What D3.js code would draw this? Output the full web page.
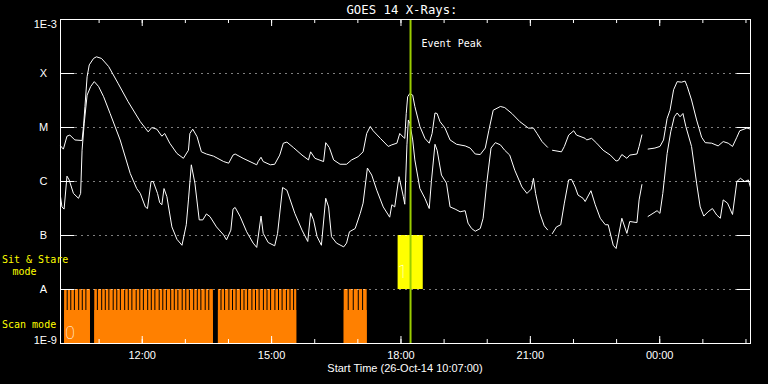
<!DOCTYPE html>
<html>
<head>
<meta charset="utf-8">
<script src="https://cdn.jsdelivr.net/npm/d3@7"></script>
<style>
  body { margin: 0; background: #000; }
  text { fill: #fff; }
  .mono { font-family: "DejaVu Sans Mono", monospace; }
  .sans { font-family: "Liberation Sans", Arial, sans-serif; }
  .thin { font-family: Roboto, Lato, sans-serif; font-weight: 100; }
</style>
</head>
<body>
<svg id="chart" width="768" height="384"></svg>
<script>
// time range of the plot (26-Oct-14 10:07 .. +16 h)
var startTime = new Date(2014, 9, 26, 10, 7)
var endTime = new Date(2014, 9, 27, 2, 7)

// flux class levels (log10 W/m^2)
var classLevels = [-8, -7, -6, -5, -4]
var classLabels = ['A', 'B', 'C', 'M', 'X']

// labelled hours on the time axis
var majorHours = [new Date(2014, 9, 26, 12), new Date(2014, 9, 26, 15), new Date(2014, 9, 26, 18),
  new Date(2014, 9, 26, 21), new Date(2014, 9, 27, 0)]
var majorLabels = ['12:00', '15:00', '18:00', '21:00', '00:00']

// GOES long channel (1-8 A): minutes after start, log10 flux (null = data gap)
var longMinutes = [0, 4, 9, 13, 20, 30, 32, 34, 37, 40, 46, 50, 57, 67, 80, 94, 111, 122, 127, 134,
  141, 145, 152, 162, 171, 178, 180, 184, 190, 196, 203, 213, 227, 234, 240, 243, 254, 273, 275, 279,
  282, 292, 298, 305, 310, 315, 324, 336, 345, 348, 354, 366, 369, 374, 380, 389, 398, 405, 414, 421,
  426, 431, 435, 445, 456, 461, 468, 472, 477, 479, 481, 483, 486, 490, 493, 500, 507, 513, 517, 521,
  524, 528, 535, 542, 551, 563, 570, 577, 584, 591, 596, 602, 612, 618, 628, 639, 651, 658, 663, 670,
  678, 681,
  684, 697, 701, 707, 714, 718, 730, 732, 739, 746, 755, 765, 773, 776, 781, 788, 792, 802, 805, 809, 813,
  817, 827, 834, 839, 844, 848, 853, 858, 864, 869, 872, 878, 885, 892, 897, 906, 915, 922, 929, 935,
  941, 945, 955, 960]
var longLog = [-5.35, -5.41, -5.17, -5.15, -5.24, -5.25, -4.99, -4.62, -4.07, -3.85, -3.73, -3.70, -3.73, -3.88, -4.19, -4.53, -4.90, -5.09, -5.01, -5.04,
  -5.17, -5.12, -5.30, -5.49, -5.58, -5.43, -5.12, -5.04, -5.18, -5.46, -5.50, -5.54, -5.64, -5.67, -5.52, -5.50, -5.58, -5.70, -5.64, -5.56,
  -5.64, -5.70, -5.69, -5.52, -5.30, -5.28, -5.38, -5.52, -5.61, -5.46, -5.58, -5.64, -5.29, -5.38, -5.61, -5.69, -5.69, -5.61, -5.55, -5.46,
  -5.12, -4.99, -5.07, -5.21, -5.36, -5.33, -5.30, -5.12, -5.19, -5.21, -4.75, -4.44, -4.38, -4.41, -4.62, -4.99, -5.21, -5.30, -5.12, -4.74,
  -4.75, -4.90, -5.02, -5.24, -5.32, -5.35, -5.39, -5.50, -5.51, -5.39, -5.06, -4.69, -4.62, -4.64, -4.75, -4.90, -5.02, -5.02, -5.12, -5.27,
  -5.38, null,
  -5.43, -5.46, -5.36, -5.15, -5.07, -5.15, -5.21, -5.24, -5.21, -5.30, -5.43, -5.52, -5.63, -5.62, -5.51, -5.58, -5.52, -5.50, -5.36, -5.14, null,
  -5.41, -5.39, -5.36, -5.24, -4.84, -4.69, -4.31, -4.16, -4.17, -4.15, -4.25, -4.50, -4.87, -5.19, -5.29, -5.30, -5.35, -5.27, -5.30, -5.36,
  -5.19, -5.07, -5.02, -5.04]

// GOES short channel (0.5-4 A)
var shortMinutes = [0, 2, 5, 9, 12, 18, 25, 28, 30, 33, 37, 42, 47, 53, 60, 69, 83, 97, 106, 111,
  118, 121, 126, 129, 135, 138, 141, 144, 148, 155, 162, 169, 175, 178, 182, 187, 193, 198, 203, 208,
  217, 227, 231, 237, 240, 243, 250, 259, 268, 273, 279, 282, 289, 298, 302, 309, 315, 326, 336, 344,
  348, 352, 357, 363, 369, 373, 377, 384, 394, 398, 402, 410, 417, 421, 427, 433, 440, 449, 458, 461,
  465, 471, 477, 479, 482, 484, 486, 490, 493, 500, 507, 513, 516, 521, 524, 530, 537, 542, 549, 556,
  563, 567, 572, 577, 584, 588, 593, 599, 605, 612, 618, 625, 632, 642, 649, 655, 658, 661, 667, 673,
  678, 681,
  684, 690, 696, 701, 707, 711, 716, 720, 727, 730, 738, 744, 751, 758, 762, 769, 773, 781, 788, 792,
  802, 805, 809, 813,
  817, 823, 830, 834, 838, 844, 849, 854, 858, 862, 866, 870, 878, 885, 890, 895, 901, 907, 913, 918,
  922, 928, 935, 941, 946, 952, 957, 960]
var shortLog = [-6.29, -6.48, -6.52, -5.91, -5.98, -6.23, -6.32, -6.23, -5.43, -4.93, -4.41, -4.25, -4.16, -4.25, -4.44, -4.75, -5.24, -5.86, -6.14, -6.23,
  -6.48, -6.51, -6.01, -6.01, -6.23, -6.40, -6.44, -6.14, -6.29, -6.85, -7.08, -7.19, -6.81, -6.35, -5.70, -6.04, -6.72, -6.72, -6.61, -6.66,
  -6.85, -7.00, -7.09, -6.91, -6.52, -6.49, -6.66, -6.94, -7.15, -7.23, -6.65, -6.97, -7.14, -7.20, -6.97, -6.12, -6.17, -6.60, -6.91, -7.12,
  -6.59, -6.72, -7.03, -7.19, -6.32, -6.48, -7.03, -7.15, -7.22, -7.15, -6.94, -6.88, -6.60, -6.41, -5.76, -5.89, -6.17, -6.48, -6.67, -6.44,
  -6.48, -5.92, -6.29, -6.43, -5.33, -4.87, -4.93, -5.24, -5.61, -6.14, -6.32, -6.51, -6.01, -5.32, -5.43, -5.89, -6.04, -6.48, -6.52, -6.57,
  -6.55, -6.78, -6.88, -6.93, -6.88, -6.69, -6.04, -5.39, -5.29, -5.33, -5.43, -5.52, -5.80, -6.11, -6.23, -6.15, -5.95, -6.23, -6.60, -6.83,
  -6.91, null,
  -6.98, -6.85, -6.81, -6.41, -5.98, -5.97, -6.11, -6.26, -6.32, -6.38, -6.18, -6.44, -6.69, -6.81, -6.81, -7.19, -7.25, -6.69, -6.97, -6.75,
  -6.77, -6.35, -6.06, null,
  -6.66, -6.61, -6.55, -6.60, -6.23, -5.49, -5.09, -4.81, -4.74, -4.81, -4.75, -4.99, -5.36, -6.04, -6.48, -6.65, -6.57, -6.51, -6.63, -6.69,
  -6.35, -6.41, -6.62, -6.01, -5.95, -6.01, -5.98, -6.12]

// scan mode observations: block [start, end] minutes, and raster start minutes
var scanBlocks = [[5, 41], [47, 212], [219, 328], [394, 426]]
var rasterStarts = [5, 10, 15, 20, 26, 31, 36,
  47, 52, 58, 63, 68, 74, 79, 84, 90, 95, 100, 106, 111, 116, 122, 127, 132, 138, 143, 148, 154, 159, 164, 170, 175, 180, 186, 191, 196, 202, 207,
  219, 224, 229, 235, 240, 245, 251, 256, 261, 267, 272, 277, 283, 288, 293, 299, 304, 309, 315, 320, 325,
  394, 401, 408, 415, 421]

// sit & stare observation and event peak
var sitStare = [469, 504]
var eventPeakMinute = 487

function atMinute (m) { return new Date(startTime.getTime() + m * 60000) }

var svg = d3.select('#chart')
var plotLeft = 60.5
var plotRight = 750.5
var plotTop = 19
var plotBottom = 343

var x = d3.scaleTime().domain([startTime, endTime]).range([plotLeft, plotRight])
var y = d3.scaleLinear().domain([-9, -3]).range([plotBottom, plotTop])

// scan mode bars
var scanG = svg.append('g')
scanG.selectAll('rect.block')
  .data(scanBlocks)
  .enter()
  .append('rect')
  .attr('x', d => x(atMinute(d[0])))
  .attr('width', d => x(atMinute(d[1])) - x(atMinute(d[0])))
  .attr('y', y(-8) + 21)
  .attr('height', plotBottom - y(-8) - 21)
  .attr('fill', '#ff8000')

scanG.selectAll('rect.raster')
  .data(rasterStarts)
  .enter()
  .append('rect')
  .attr('x', d => x(atMinute(d)))
  .attr('width', function (d, i) {
    var block = scanBlocks.find(b => d >= b[0] && d < b[1])
    var next = i + 1 < rasterStarts.length ? rasterStarts[i + 1] : block[1]
    var end = next <= block[1] ? next : block[1]
    var w = x(atMinute(end)) - x(atMinute(d))
    return end === block[1] ? w : w - 1
  })
  .attr('y', y(-8))
  .attr('height', plotBottom - y(-8))
  .attr('fill', '#ff8000')

// sit & stare box
svg.append('rect')
  .attr('x', x(atMinute(sitStare[0])))
  .attr('width', x(atMinute(sitStare[1])) - x(atMinute(sitStare[0])))
  .attr('y', y(-7))
  .attr('height', y(-8) - y(-7))
  .attr('fill', '#ffff00')

// dotted class lines + short ticks
var grid = svg.append('g')
grid.selectAll('line.dot')
  .data(classLevels)
  .enter()
  .append('line')
  .attr('x1', plotLeft + 15).attr('x2', plotRight - 14)
  .attr('y1', d => Math.round(y(d)) + 0.5).attr('y2', d => Math.round(y(d)) + 0.5)
  .attr('stroke', '#fff')
  .attr('stroke-dasharray', '1,5')
grid.selectAll('line.lt')
  .data(classLevels)
  .enter()
  .append('line')
  .attr('x1', plotLeft).attr('x2', plotLeft + 14)
  .attr('y1', d => Math.round(y(d)) + 0.5).attr('y2', d => Math.round(y(d)) + 0.5)
  .attr('stroke', '#fff')
grid.selectAll('line.rt')
  .data(classLevels)
  .enter()
  .append('line')
  .attr('x1', plotRight - 14).attr('x2', plotRight)
  .attr('y1', d => Math.round(y(d)) + 0.5).attr('y2', d => Math.round(y(d)) + 0.5)
  .attr('stroke', '#fff')

// flux curves
function series (mins, vals) {
  return mins.map((m, i) => ({ t: atMinute(m), v: vals[i] }))
}
var line = d3.line()
  .defined(d => d.v !== null)
  .x(d => x(d.t))
  .y(d => y(d.v))

svg.append('path')
  .datum(series(longMinutes, longLog))
  .attr('d', line)
  .attr('fill', 'none')
  .attr('stroke', '#fff')
  .attr('stroke-width', 1)
svg.append('path')
  .datum(series(shortMinutes, shortLog))
  .attr('d', line)
  .attr('fill', 'none')
  .attr('stroke', '#fff')
  .attr('stroke-width', 1)

// event peak
svg.append('line')
  .attr('x1', x(atMinute(eventPeakMinute))).attr('x2', x(atMinute(eventPeakMinute)))
  .attr('y1', plotTop).attr('y2', plotBottom)
  .attr('stroke', '#9acd00')
  .attr('stroke-width', 2)
svg.append('text')
  .attr('class', 'mono')
  .attr('x', x(atMinute(eventPeakMinute)) + 11)
  .attr('y', 46.5)
  .attr('font-size', 10)
  .text('Event Peak')

// time axes (ticks point inward)
var minorHours = x.ticks(d3.timeHour.every(1))
var bottomAxis = d3.axisBottom(x)
  .tickValues(majorHours)
  .tickSize(-7)
  .tickPadding(8)
  .tickFormat((d, i) => majorLabels[i])
var bottomMinor = d3.axisBottom(x).tickValues(minorHours).tickSize(-4).tickFormat('')
var topMajor = d3.axisTop(x).tickValues(majorHours).tickSize(-7).tickFormat('')
var topMinor = d3.axisTop(x).tickValues(minorHours).tickSize(-4).tickFormat('')

function styleAxis (g) {
  g.selectAll('path, line').attr('stroke', '#fff')
  g.selectAll('text').attr('fill', '#fff').attr('class', 'sans').attr('font-size', 11)
}
svg.append('g').attr('transform', 'translate(0,' + plotBottom + ')').call(bottomMinor).call(styleAxis)
svg.append('g').attr('transform', 'translate(0,' + plotBottom + ')').call(bottomAxis).call(styleAxis)
svg.append('g').attr('transform', 'translate(0,' + plotTop + ')').call(topMinor).call(styleAxis)
svg.append('g').attr('transform', 'translate(0,' + plotTop + ')').call(topMajor).call(styleAxis)
svg.selectAll('.domain').remove()

// plot frame
svg.append('rect')
  .attr('x', plotLeft).attr('y', plotTop + 0.5)
  .attr('width', plotRight - plotLeft).attr('height', plotBottom - plotTop)
  .attr('fill', 'none')
  .attr('stroke', '#fff')

// y labels
svg.selectAll('text.cls')
  .data(classLevels)
  .enter()
  .append('text')
  .attr('class', 'sans')
  .attr('x', 43.5)
  .attr('y', d => y(d) + 4)
  .attr('text-anchor', 'middle')
  .attr('font-size', 11)
  .text((d, i) => classLabels[i])
svg.append('text').attr('class', 'sans').attr('x', 57).attr('y', 27.5)
  .attr('text-anchor', 'end').attr('font-size', 11).text('1E-3')
svg.append('text').attr('class', 'sans').attr('x', 57).attr('y', 344)
  .attr('text-anchor', 'end').attr('font-size', 11).text('1E-9')

// mode labels
svg.append('text').attr('class', 'mono').attr('x', 2).attr('y', 262.5)
  .attr('font-size', 10).style('fill', '#ffff00').text('Sit & Stare')
svg.append('text').attr('class', 'mono').attr('x', 12.5).attr('y', 275)
  .attr('font-size', 10).style('fill', '#ffff00').text('mode')
svg.append('text').attr('class', 'mono').attr('x', 2).attr('y', 327.5)
  .attr('font-size', 10).style('fill', '#ffff00').text('Scan mode')

// observation numbers
svg.append('text').attr('class', 'thin').attr('x', 70).attr('y', 339)
  .attr('text-anchor', 'middle').attr('font-size', 17.5).text('0')
svg.append('text').attr('class', 'thin').attr('x', 402.5).attr('y', 278)
  .attr('text-anchor', 'middle').attr('font-size', 17.5).text('1')

// title and x label
svg.append('text').attr('class', 'mono').attr('x', 402).attr('y', 14)
  .attr('text-anchor', 'middle').attr('font-size', 12.3).text('GOES 14 X-Rays:')
svg.append('text').attr('class', 'sans').attr('x', 405).attr('y', 372)
  .attr('text-anchor', 'middle').attr('font-size', 11).text('Start Time (26-Oct-14 10:07:00)')
</script>
</body>
</html>
